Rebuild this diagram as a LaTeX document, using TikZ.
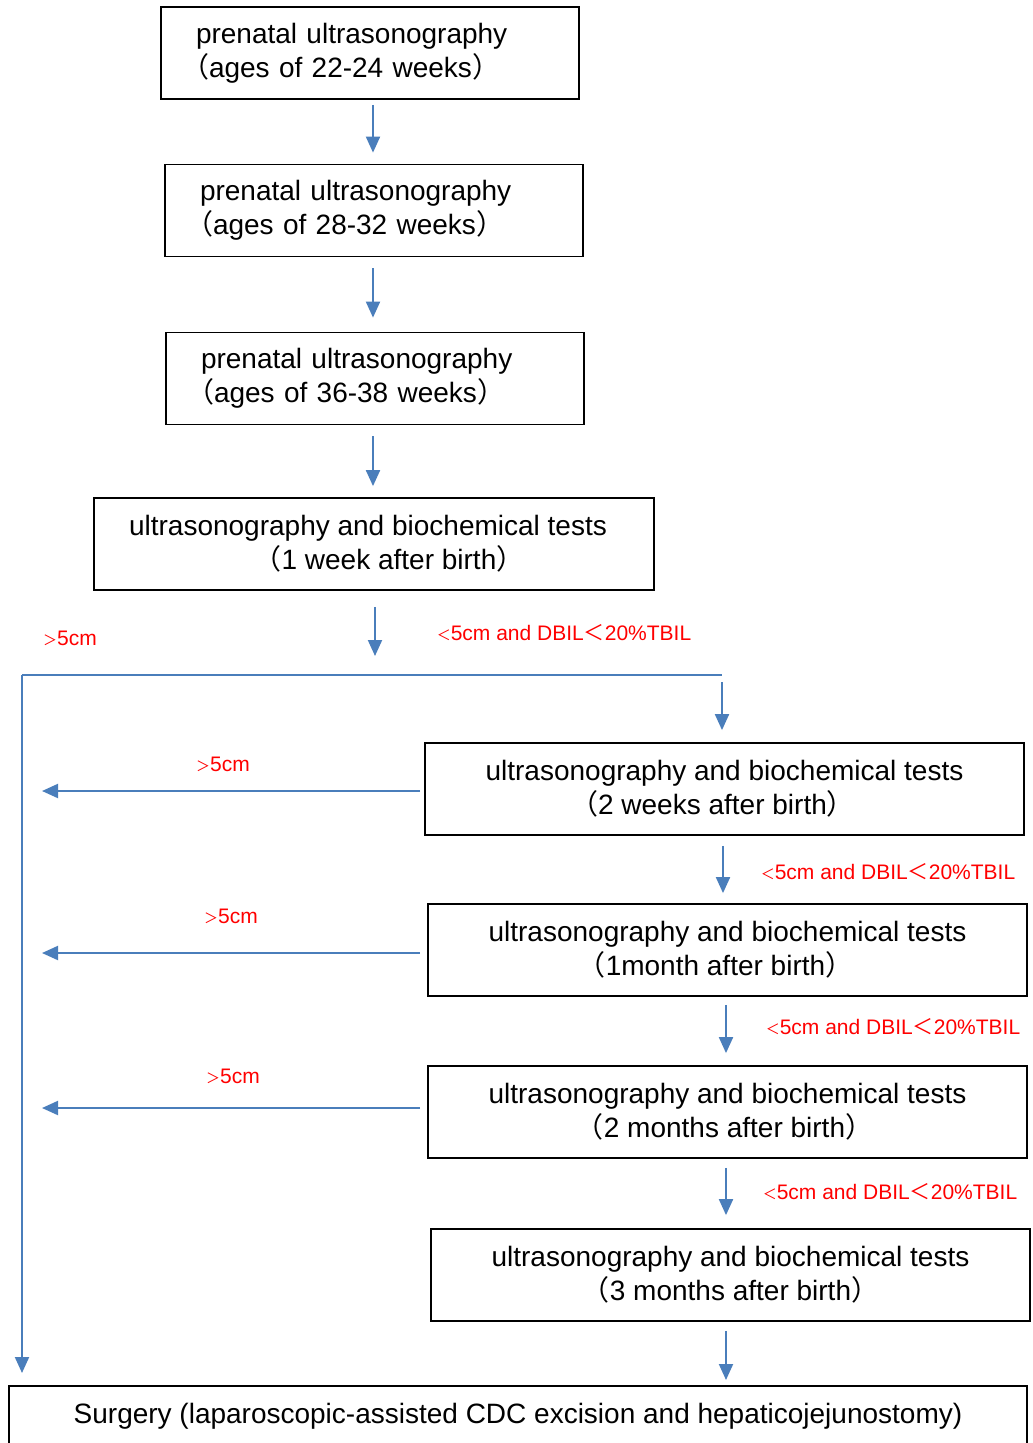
\documentclass[tikz,border=0pt]{standalone}
\usepackage{fontspec}
\setmainfont{Liberation Sans}
\newfontfamily\cjk{Noto Sans CJK SC}
\usetikzlibrary{arrows.meta,calc}
\definecolor{lineblue}{HTML}{4A7EBB}
\definecolor{lblred}{HTML}{FF0000}
\newcommand{\lp}{{\cjk （}}
\newcommand{\lpk}{\leavevmode\hspace*{-15pt}{\cjk （}}
\newcommand{\rp}{{\cjk ）}}
\newcommand{\smlt}{{\cjk\fontsize{14}{14}\selectfont ＜}}
\newcommand{\smgt}{{\cjk\fontsize{14}{14}\selectfont ＞}}
\newcommand{\bglt}{{\cjk ＜}}
\begin{document}
\begin{tikzpicture}[x=1pt,y=-1pt,
  box/.style={draw=black,line width=1.8pt,rectangle,minimum height=92pt,inner sep=0pt,
    font=\fontsize{28}{34}\selectfont},
  lbox/.style={box,text width=348pt,inner xsep=35pt,align=left},
  cbox/.style={box,align=center},
  arr/.style={draw=lineblue,line width=2pt,-{Triangle[width=14pt,length=16pt]}},
  ln/.style={draw=lineblue,line width=2pt},
  lbl/.style={text=lblred,font=\fontsize{21}{24}\selectfont,inner sep=0pt}]
\useasboundingbox (0,0) rectangle (1033,1443);
\clip (0,0) rectangle (1033,1443);
\node[lbox] (b1) at (370,53) {prenatal ultrasonography\\\lpk ages of 22-24 weeks\rp};
\node[lbox] (b2) at (374,210.5) {prenatal ultrasonography\\\lpk ages of 28-32 weeks\rp};
\node[lbox] (b3) at (375,378.5) {prenatal ultrasonography\\\lpk ages of 36-38 weeks\rp};
\node[cbox,minimum width=560pt] (b4) at (374,544) {ultrasonography and biochemical tests\hspace*{12pt}\\\hspace*{30pt}\lp 1 week after birth\rp};
\node[cbox,minimum width=599pt] (b5) at (724.5,789) {ultrasonography and biochemical tests\\\lp 2 weeks after birth\rp\hspace*{24pt}};
\node[cbox,minimum width=599pt] (b6) at (727.5,950) {ultrasonography and biochemical tests\\\lp 1month after birth\rp\hspace*{24pt}};
\node[cbox,minimum width=599pt] (b7) at (727.5,1112) {ultrasonography and biochemical tests\\\lp 2 months after birth\rp\hspace*{6pt}};
\node[cbox,minimum width=599pt] (b8) at (730.5,1275) {ultrasonography and biochemical tests\\\lp 3 months after birth\rp};
\node[box,minimum width=1018pt,minimum height=60pt,anchor=north] (b9) at (518,1385) {Surgery (laparoscopic-assisted CDC excision and hepaticojejunostomy)};
\coordinate (L) at (22,675);
\coordinate (R) at (722,675);
% labels
\node[lbl] (g0) at (70,638) {\smgt 5cm};
\node[lbl] (s0) at (564,633) {\smlt 5cm and DBIL\bglt 20\%TBIL};
\node[lbl] (g1) at (223,764) {\smgt 5cm};
\node[lbl] (g2) at (231,916) {\smgt 5cm};
\node[lbl] (g3) at (233,1076) {\smgt 5cm};
\node[lbl] (s1) at (888,872) {\smlt 5cm and DBIL\bglt 20\%TBIL};
\node[lbl] (s2) at (893,1027) {\smlt 5cm and DBIL\bglt 20\%TBIL};
\node[lbl] (s3) at (890,1192) {\smlt 5cm and DBIL\bglt 20\%TBIL};
% connectors
\draw[arr,shorten <=5pt,shorten >=11pt] ([xshift=3pt]b1.south) -- ([xshift=3pt]b1.south |- b2.north);
\draw[arr,shorten <=11pt,shorten >=14pt] ([xshift=-1pt]b2.south) -- ([xshift=-1pt]b2.south |- b3.north);
\draw[arr,shorten <=11pt,shorten >=11pt] ([xshift=-2pt]b3.south) -- ([xshift=-2pt]b3.south |- b4.north);
\draw[arr,shorten <=16pt,shorten >=19pt] ([xshift=1pt]b4.south) -- ([xshift=1pt]b4.south |- L);
\draw[ln] (L) -- (R);
\draw[arr,shorten >=12pt] (L) -- (L |- b9.north);
\draw[arr,shorten <=7pt,shorten >=12pt] (R) -- (R |- b5.north);
\draw[arr,shorten <=10pt,shorten >=10pt] ([xshift=-1.5pt]b5.south) -- ([xshift=-1.5pt]b5.south |- b6.north);
\draw[arr,shorten <=8pt,shorten >=12pt] ([xshift=-1.5pt]b6.south) -- ([xshift=-1.5pt]b6.south |- b7.north);
\draw[arr,shorten <=9pt,shorten >=13pt] ([xshift=-1.5pt]b7.south) -- ([xshift=-1.5pt]b7.south |- b8.north);
\draw[arr,shorten <=9pt,shorten >=5pt] ([xshift=-4.5pt]b8.south) -- ([xshift=-4.5pt]b8.south |- b9.north);
\draw[arr,shorten <=4pt,shorten >=20pt] ([yshift=-2pt]b5.west) -- ([yshift=-2pt]b5.west -| L);
\draw[arr,shorten <=7pt,shorten >=20pt] ([yshift=-3pt]b6.west) -- ([yshift=-3pt]b6.west -| L);
\draw[arr,shorten <=7pt,shorten >=20pt] ([yshift=4pt]b7.west) -- ([yshift=4pt]b7.west -| L);
\end{tikzpicture}
\end{document}
